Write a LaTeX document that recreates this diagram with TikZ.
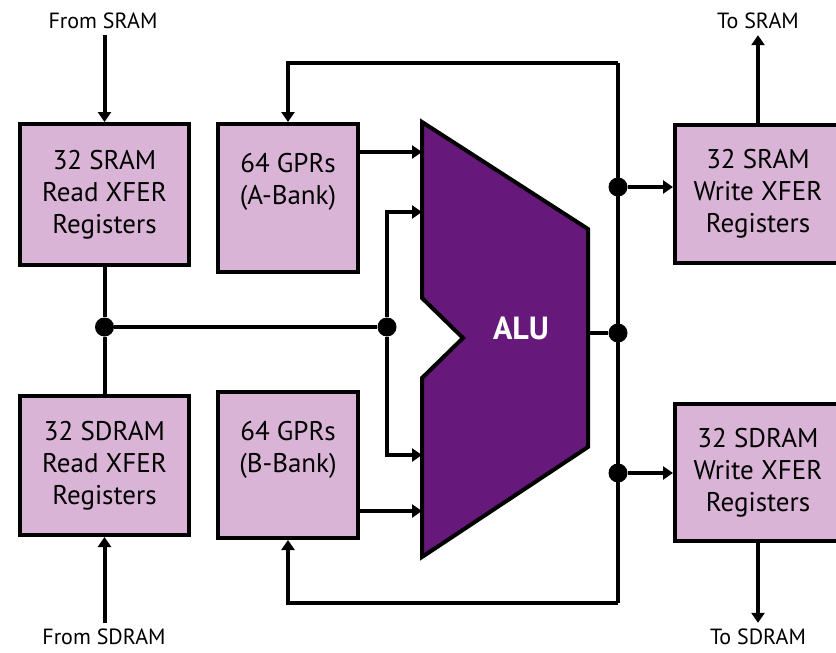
\documentclass[tikz,border=0pt]{standalone}
\usepackage{fontspec}
\setmainfont{PT Sans}
\usetikzlibrary{arrows.meta,calc}
\definecolor{boxfill}{RGB}{217,180,214}
\definecolor{alufill}{RGB}{102,25,122}
\tikzset{
  regbox/.style={draw=black, line width=4pt, fill=boxfill, inner sep=0pt,
    align=center, font=\fontsize{27}{32}\selectfont},
  conn/.style={line width=4pt},
  arr/.style={line width=4pt, -{Triangle[length=10pt,width=13pt]}},
  junc/.style={circle, fill=black, inner sep=0pt, minimum size=19pt},
  lbl/.style={font=\fontsize{22}{24}\selectfont, inner sep=1pt}
}
\begin{document}
\begin{tikzpicture}[x=1pt,y=-1pt]
\clip (0,0) rectangle (836,653);
\fill[white] (0,0) rectangle (836,653);

% register boxes
\node[regbox, minimum width=169pt, minimum height=141pt] (sramR) at (104.5,194.5) {32 SRAM\\Read XFER\\Registers};
\node[regbox, minimum width=169pt, minimum height=139pt] (sdramR) at (104.5,465.5) {32 SDRAM\\Read XFER\\Registers};
\node[regbox, minimum width=140pt, minimum height=148pt] (gprA) at (288,198) {64 GPRs\\(A-Bank)\\[6pt]};
\node[regbox, minimum width=140pt, minimum height=146pt] (gprB) at (288,465) {64 GPRs\\(B-Bank)\\[4pt]};
\node[regbox, minimum width=166pt, minimum height=138pt] (sramW) at (758,194) {32 SRAM\\Write XFER\\Registers};
\node[regbox, minimum width=166pt, minimum height=137pt] (sdramW) at (758,472.5) {32 SDRAM\\Write XFER\\Registers};

% labels
\node[lbl] (fsram) at (103,21) {From SRAM};
\node[lbl] (fsdram) at (104,637) {From SDRAM};
\node[lbl] (tsram) at (758,21) {To SRAM};
\node[lbl] (tsdram) at (758,637) {To SDRAM};

% ALU
\coordinate (aluTL) at (422,122);
\coordinate (aluTR) at (588,229);
\coordinate (aluBR) at (588,447);
\coordinate (aluBL) at (422,557);
\coordinate (nU) at (422,298);
\coordinate (nT) at (463,338);
\coordinate (nL) at (422,378);
\draw[line width=4pt, fill=alufill, line join=miter]
  (aluTL) -- (aluTR) -- (aluBR) -- (aluBL) -- (nL) -- (nT) -- (nU) -- cycle;
\node[text=white, font=\bfseries\fontsize{32}{32}\selectfont] (alu) at (521,328) {ALU};
\coordinate (inA) at (422,152);
\coordinate (inB) at (422,212);
\coordinate (inC) at (422,455);
\coordinate (inD) at (422,511);
\coordinate (aluOut) at (588,333);

% junctions
\node[junc] (dotL) at (104.5,327) {};
\node[junc] (dotM) at (387,327) {};
\node[junc] (dotR) at (618,333) {};
\node[junc] (dotW1) at (618,187) {};
\node[junc] (dotW2) at (618,473) {};
\coordinate (busTR) at (618,63);
\coordinate (busBR) at (618,603);

% external connections
\draw[arr] ([yshift=-5pt]sramR.north |- fsram.south) -- (sramR.north);
\draw[arr] ([yshift=5pt]sdramR.south |- fsdram.north) -- (sdramR.south);
\draw[arr] (sramW.north) -- ([yshift=-5pt]sramW.north |- tsram.south);
\draw[arr] (sdramW.south) -- ([yshift=5pt]sdramW.south |- tsdram.north);

% read bus
\draw[conn] (sramR.south) -- (dotL);
\draw[conn] (sdramR.north) -- (dotL);
\draw[conn] (dotL) -- (dotM);
\draw[arr] (dotM) |- (inB);
\draw[arr] (dotM) |- (inC);
\draw[arr] (gprA.east |- inA) -- (inA);
\draw[arr] (gprB.east |- inD) -- (inD);

% ALU output bus
\draw[conn] (aluOut) -- (dotR);
\draw[conn] (busTR) -- (busBR);
\draw[arr] (busTR) -| (gprA.north);
\draw[arr] (busBR) -| (gprB.south);
\draw[arr] (dotW1) -- (dotW1 -| sramW.west);
\draw[arr] (dotW2) -- (dotW2 -| sdramW.west);
\end{tikzpicture}
\end{document}
